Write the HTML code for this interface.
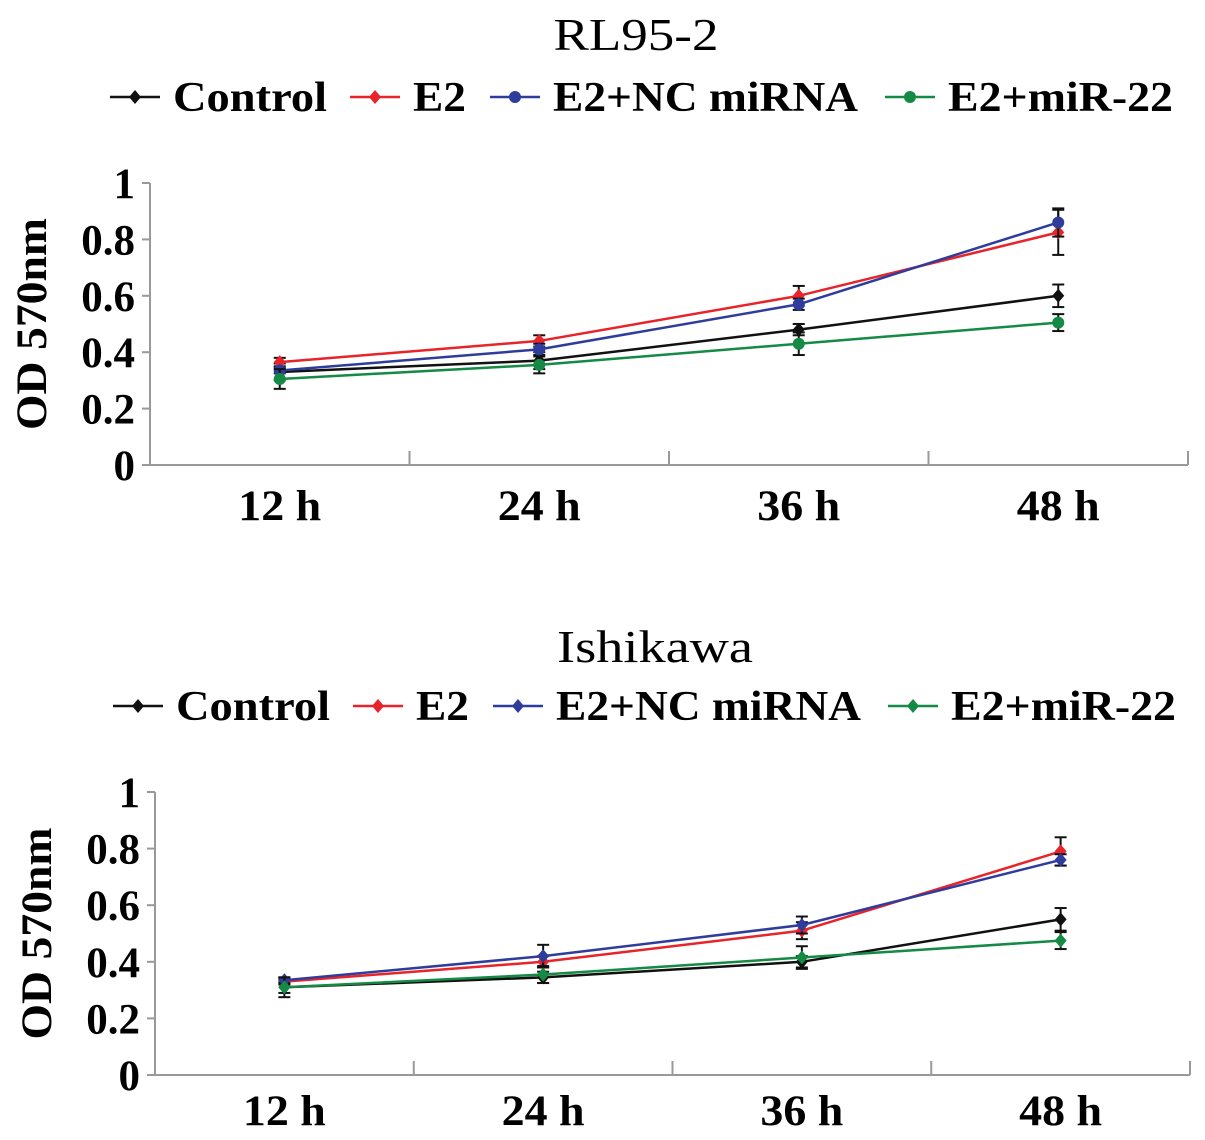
<!DOCTYPE html>
<html><head><meta charset="utf-8"><style>
body{margin:0;background:#fff}
svg{display:block;font-family:"Liberation Serif",serif}
</style></head><body>
<svg id="s" width="1205" height="1140"></svg>
<script>
const categories=["12 h","24 h","36 h","48 h"];
const yTicks=[0,0.2,0.4,0.6,0.8,1];
const yTickLabels=["0","0.2","0.4","0.6","0.8","1"];
const seriesNames=["Control","E2","E2+NC miRNA","E2+miR-22"];
const seriesColors=["#111","#e8232a","#2e3d9c","#148a44"];
const topControl=[0.33,0.37,0.48,0.60];
const topControlErr=[0.03,0.03,0.02,0.04];
const topE2=[0.365,0.44,0.60,0.825];
const topE2Err=[0.015,0.02,0.035,0.08];
const topNC=[0.335,0.41,0.57,0.86];
const topNCErr=[0.01,0.02,0.02,0.05];
const topMiR=[0.305,0.355,0.43,0.505];
const topMiRErr=[0.035,0.03,0.04,0.03];
const botControl=[0.31,0.345,0.40,0.55];
const botControlErr=[0.02,0.02,0.02,0.04];
const botE2=[0.33,0.40,0.51,0.79];
const botE2Err=[0.01,0.02,0.03,0.05];
const botNC=[0.335,0.42,0.53,0.76];
const botNCErr=[0.01,0.04,0.03,0.02];
const botMiR=[0.31,0.355,0.415,0.475];
const botMiRErr=[0.035,0.03,0.04,0.03];
const legendWidths=[154,53,305,225];

const NS="http://www.w3.org/2000/svg",svg=document.getElementById('s');
function mk(t,a,p){const e=document.createElementNS(NS,t);for(const k in a)e.setAttribute(k,a[k]);(p||svg).appendChild(e);return e;}

function chart(cfg){
  const g=mk('g',{});
  
  
  const {x0,x1,y0,y1}=cfg;
  const xs=i=>x0+(x1-x0)/categories.length*(i+0.5);
  const ys=v=>y0-(y0-y1)*v;
  let t=mk('text',{x:cfg.titleX,y:cfg.titleY,'font-size':46,'text-anchor':'middle',textLength:cfg.titleW,lengthAdjust:'spacingAndGlyphs'},g);t.textContent=cfg.title;
  
  
  cfg.legendX.forEach((lx,i)=>{
    const lg=mk('g',{},g);
    
    
    mk('line',{x1:lx,x2:lx+50,y1:cfg.legendY,y2:cfg.legendY,stroke:seriesColors[i],'stroke-width':2.5},lg);
    marker(lg,lx+25,cfg.legendY,cfg.markers[i],seriesColors[i]);
    const tx=mk('text',{x:lx+63,y:cfg.legendY+14,'font-size':42,'font-weight':'bold',textLength:legendWidths[i],lengthAdjust:'spacingAndGlyphs'},lg);tx.textContent=seriesNames[i];
  });
  mk('line',{x1:x0,x2:x0,y1:y1,y2:y0,stroke:'#999','stroke-width':2},g);
  mk('line',{x1:x0,x2:x1,y1:y0,y2:y0,stroke:'#999','stroke-width':2},g);
  yTicks.forEach((v,i)=>{
    mk('line',{x1:x0,x2:x0-8,y1:ys(v),y2:ys(v),stroke:'#999','stroke-width':2},g);
    const l=mk('text',{x:x0-15,y:ys(v)+15,'font-size':43,'font-weight':'bold','text-anchor':'end'},g);l.textContent=yTickLabels[i];
    
    
  });
  for(let i=0;i<=categories.length;i++){const x=x0+(x1-x0)/categories.length*i;mk('line',{x1:x,x2:x,y1:y0,y2:y0-14,stroke:'#999','stroke-width':2},g);}
  categories.forEach((c,i)=>{const l=mk('text',{x:xs(i),y:y0+cfg.xlabOff,'font-size':43,'font-weight':'bold','text-anchor':'middle',textLength:83,lengthAdjust:'spacingAndGlyphs'},g);l.textContent=c;
    
    });
  const yl=mk('text',{transform:`translate(${cfg.ylabX},${(y0+y1)/2}) rotate(-90)`,'font-size':43,'font-weight':'bold','text-anchor':'middle',textLength:212,lengthAdjust:'spacingAndGlyphs'},g);yl.textContent='OD 570nm';
  
  
  cfg.data.forEach((s,si)=>{
    const sg=mk('g',{},g);
    
    
    const [vals,errs]=s;
    mk('polyline',{points:vals.map((v,i)=>xs(i)+','+ys(v)).join(' '),fill:'none',stroke:seriesColors[si],'stroke-width':2.5},sg);
    vals.forEach((v,i)=>{
      const x=xs(i),e=errs[i];
      mk('line',{x1:x,x2:x,y1:ys(v-e),y2:ys(v+e),stroke:'#111','stroke-width':2},sg);
      mk('line',{x1:x-6,x2:x+6,y1:ys(v-e),y2:ys(v-e),stroke:'#111','stroke-width':2},sg);
      mk('line',{x1:x-6,x2:x+6,y1:ys(v+e),y2:ys(v+e),stroke:'#111','stroke-width':2},sg);
      marker(sg,x,ys(v),cfg.markers[si],seriesColors[si]);
    });
  });
}
function marker(p,x,y,type,c){
  let m;
  if(type==='c') m=mk('circle',{cx:x,cy:y,r:6,fill:c},p);
  else m=mk('polygon',{points:`${x},${y-7} ${x+6},${y} ${x},${y+7} ${x-6},${y}`,fill:c},p);
  
  
}
chart({name:'chart-rl95-2',title:'RL95-2',titleW:165,titleX:636,titleY:50,x0:150,x1:1188,y0:465,y1:183,ylabX:46,xlabOff:55,
  legendX:[110,350,490,885],legendY:97,markers:['d','d','c','c'],
  data:[[topControl,topControlErr],[topE2,topE2Err],[topNC,topNCErr],[topMiR,topMiRErr]]});
chart({name:'chart-ishikawa',title:'Ishikawa',titleW:196,titleX:655,titleY:662,x0:155,x1:1190,y0:1075,y1:792,ylabX:51,xlabOff:50,
  legendX:[113,353,493,888],legendY:706,markers:['d','d','d','d'],
  data:[[botControl,botControlErr],[botE2,botE2Err],[botNC,botNCErr],[botMiR,botMiRErr]]});
</script>
</body></html>
